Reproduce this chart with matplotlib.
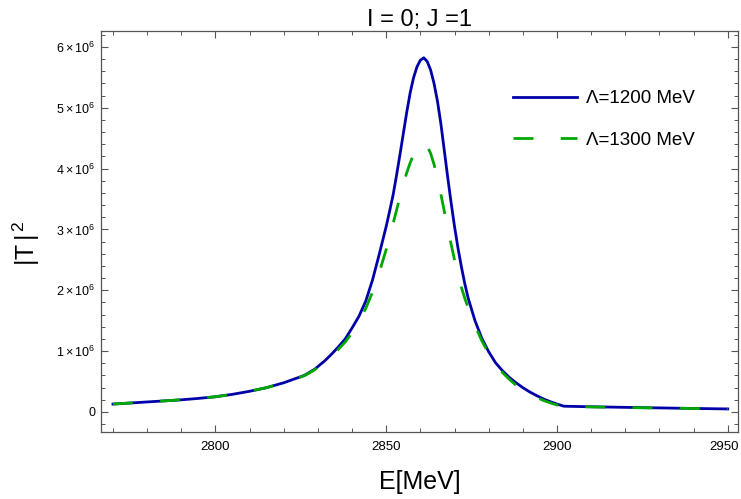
import matplotlib
matplotlib.use('Agg')
import matplotlib.pyplot as plt
from matplotlib.ticker import MultipleLocator, FuncFormatter
from matplotlib.transforms import ScaledTranslation
import numpy as np

plt.rcParams['font.family'] = ['Liberation Sans', 'DejaVu Sans']
plt.rcParams['mathtext.fontset'] = 'custom'
plt.rcParams['mathtext.rm'] = 'Liberation Sans'
plt.rcParams['mathtext.it'] = 'Liberation Sans'

# energy grid (MeV) and |T|^2 values (units of 1e6)
energy = [2770, 2775, 2780, 2785, 2790, 2795, 2800, 2805, 2810, 2815, 2820,
          2823, 2826, 2829,
          2832, 2834, 2836, 2838, 2840, 2842, 2844, 2846, 2848, 2850,
          2851, 2852, 2853, 2854, 2855, 2856, 2857, 2858, 2859, 2860, 2861, 2862,
          2863, 2864, 2865, 2866, 2867, 2868, 2869, 2870, 2871, 2872, 2873, 2874,
          2876, 2878, 2880, 2882, 2884, 2886, 2888, 2890, 2892, 2894, 2896, 2898,
          2900, 2902,
          2906, 2910, 2920, 2930, 2940, 2950]
t2_1200 = [0.13, 0.147, 0.165, 0.182, 0.20, 0.223, 0.25, 0.29, 0.34, 0.40, 0.48,
           0.54, 0.60, 0.70,
           0.84, 0.95, 1.07, 1.20, 1.38, 1.57, 1.82, 2.17, 2.60, 3.05,
           3.30, 3.56, 3.88, 4.22, 4.57, 4.92, 5.24, 5.49, 5.67, 5.78, 5.82, 5.76,
           5.62, 5.40, 5.11, 4.74, 4.30, 3.86, 3.44, 3.05, 2.70, 2.39, 2.11, 1.87,
           1.50, 1.21, 0.99, 0.81, 0.68, 0.57, 0.48, 0.40, 0.33, 0.27, 0.215, 0.17,
           0.13, 0.095,
           0.09, 0.086, 0.076, 0.067, 0.058, 0.05]
t2_1300 = [0.13, 0.147, 0.165, 0.182, 0.20, 0.223, 0.25, 0.29, 0.34, 0.40, 0.48,
           0.535, 0.595, 0.69,
           0.82, 0.92, 1.03, 1.15, 1.30, 1.48, 1.70, 1.97, 2.30, 2.67,
           2.88, 3.09, 3.31, 3.53, 3.74, 3.93, 4.09, 4.23, 4.33, 4.40, 4.42, 4.37,
           4.25, 4.07, 3.84, 3.58, 3.30, 3.02, 2.76, 2.50, 2.26, 2.05, 1.87, 1.71,
           1.42, 1.17, 0.96, 0.79, 0.65, 0.54, 0.44, 0.36, 0.295, 0.24, 0.19, 0.15,
           0.115, 0.09,
           0.086, 0.083, 0.073, 0.065, 0.057, 0.05]
labels = ['\u039b=1200 MeV', '\u039b=1300 MeV']

fig = plt.figure(figsize=(7.41, 4.99), dpi=100)
ax = fig.add_axes([101/741, 67.3/499, 637/741, 400.7/499])

ax.plot(energy, np.array(t2_1200)*1e6, '-', color='#0000a8', lw=2.0, label=labels[0])
ax.plot(energy, np.array(t2_1300)*1e6, '--', color='#00a800', lw=2.0,
        dashes=(7.2, 9.8), label=labels[1])

ax.set_xlim(2766.5, 2953)
ax.set_ylim(-0.324e6, 6.26e6)

ax.xaxis.set_major_locator(MultipleLocator(50))
ax.xaxis.set_minor_locator(MultipleLocator(10))
ax.yaxis.set_major_locator(MultipleLocator(1e6))
ax.yaxis.set_minor_locator(MultipleLocator(0.2e6))

def yfmt(v, pos):
  k = int(round(v/1e6))
  if k == 0:
    return '0'
  return r'$%d\times10^{6}$' % k
ax.yaxis.set_major_formatter(FuncFormatter(yfmt))

frame = '#555555'
for s in ax.spines.values():
  s.set_color(frame)
  s.set_linewidth(0.9)
ax.tick_params(which='both', direction='in', top=True, right=True, color=frame)
ax.tick_params(which='major', length=5, width=0.8)
ax.tick_params(which='minor', length=2.8, width=0.7)
ax.tick_params(axis='x', labelsize=9.5, pad=7)
ax.tick_params(axis='y', labelsize=9, pad=4)

ax.set_title('I = 0; J =1', fontsize=17, pad=3)
ax.set_xlabel('E[MeV]', fontsize=18, labelpad=12)
ax.set_ylabel(r'$|\mathrm{T}\,|^{\,2}$', fontsize=18)
ax.yaxis.set_label_coords(-0.092, 0.47)

ax.legend(loc='center left', bbox_to_anchor=(513/741, 1 - 119.5/499),
          bbox_transform=fig.transFigure, frameon=False, fontsize=13.5,
          handlelength=3.4, handletextpad=0.5, labelspacing=1.3, borderpad=0,
          borderaxespad=0)

# keep the last x tick label inside the picture
fig.canvas.draw()
for t in ax.xaxis.get_major_ticks():
  if abs(t.get_loc() - 2950) < 1e-6:
    t.label1.set_transform(t.label1.get_transform() +
                           ScaledTranslation(-3/72, 0, fig.dpi_scale_trans))

plt.savefig('out.png', dpi=100)
